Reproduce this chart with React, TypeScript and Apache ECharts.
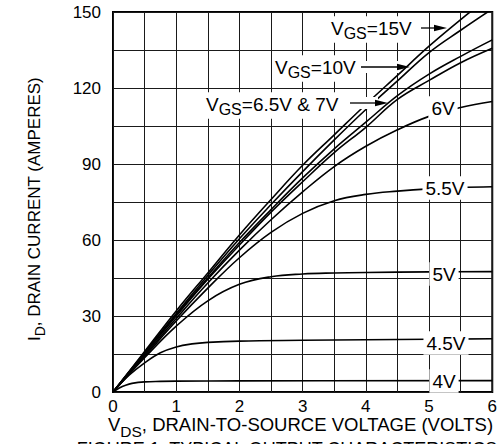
import React, { useEffect, useRef } from 'react';
import * as echarts from 'echarts';

// V_DS (volts), I_D (amperes) pairs per gate voltage curve
const vgs15: number[][] = [[0,0],[0.5,16],[1,32],[1.5,47],[2,62],[2.5,76],[3,89.5],[3.5,101.5],[4,113.5],[4.5,125],[5,136.5],[5.5,147],[5.7,151]];
const vgs10: number[][] = [[0,0],[0.5,15.5],[1,31],[1.5,46],[2,60.5],[2.5,74],[3,87],[3.5,99.5],[4,111.5],[4.5,122.8],[5,134],[5.5,142.8],[6,151.2]];
const vgs7: number[][] = [[0,0],[0.5,15.5],[1,30.5],[1.5,45],[2,59],[2.5,72],[3,84.5],[3.5,96],[4,106.5],[4.5,117],[5,125.5],[5.5,132.5],[6,139]];
const vgs65: number[][] = [[0,0],[0.5,15],[1,30],[1.5,44.5],[2,58],[2.5,71],[3,83],[3.5,94.5],[4,104.5],[4.5,115.5],[5,123],[5.5,130],[6,135.7]];
const vgs6: number[][] = [[0,0],[0.5,14.5],[1,29],[1.5,43],[2,56],[2.5,68],[3,79],[3.5,89],[4,97],[4.5,103.5],[5,108.8],[5.5,112.3],[6,114.7]];
const vgs55: number[][] = [[0,0],[0.5,14],[1,28],[1.5,41],[2,53],[2.5,63],[3,70.5],[3.5,75.5],[4,78],[4.5,79.3],[5,80.2],[5.5,80.7],[6,81]];
const vgs5: number[][] = [[0,0],[0.5,13.5],[1,26],[1.5,36],[2,42.5],[2.5,45.5],[3,46.6],[3.5,47],[4,47.2],[5,47.4],[6,47.5]];
const vgs45: number[][] = [[0,0],[0.25,6.5],[0.5,11.5],[0.75,15.5],[1,17.8],[1.25,19],[1.5,19.6],[2,20.1],[3,20.4],[4,20.6],[5,20.8],[6,21]];
const vgs4: number[][] = [[0,0],[0.1,1.6],[0.2,2.7],[0.3,3.4],[0.5,4.0],[0.75,4.2],[1,4.3],[2,4.4],[6,4.5]];

const curveNames = ['15V', '10V', '7V', '6.5V', '6V', '5.5V', '5V', '4.5V', '4V'];
const curves = [vgs15, vgs10, vgs7, vgs65, vgs6, vgs55, vgs5, vgs45, vgs4];

const xTicks = ['0', '1', '2', '3', '4', '5', '6'];
const yTicks = ['0', '30', '60', '90', '120', '150'];

const FONT = '"Liberation Sans", Arial, Helvetica, sans-serif';

type Part = [string, boolean];

let measureCtx: CanvasRenderingContext2D | null = null;
function measure(t: string, size: number): number {
  if (!measureCtx) measureCtx = document.createElement('canvas').getContext('2d');
  if (!measureCtx) return t.length * size * 0.6;
  measureCtx.font = `${size}px ${FONT}`;
  return measureCtx.measureText(t).width;
}

function richLabel(cx: number, cy: number, parts: Part[], mainSize: number, subSize: number, subDy: number, box: boolean, align: 'center' | 'left' = 'center') {
  const widths = parts.map(([t, s]) => measure(t, s ? subSize : mainSize));
  const total = widths.reduce((a, b) => a + b, 0);
  let x = align === 'center' ? cx - total / 2 : cx;
  const els: any[] = [];
  if (box) {
    els.push({ type: 'rect', z: 100, shape: { x: x - 3, y: cy - mainSize * 0.62, width: total + 6, height: mainSize * 1.24 + (parts.some((p) => p[1]) ? subDy * 0.6 : 0) }, style: { fill: '#fff' } });
  }
  parts.forEach(([t, s], i) => {
    els.push({
      type: 'text', z: 101, x, y: s ? cy + subDy : cy,
      style: { text: t, fontSize: s ? subSize : mainSize, fontFamily: FONT, fill: '#000', align: 'left', verticalAlign: 'middle' },
    });
    x += widths[i];
  });
  return els;
}

export default function App() {
  const ref = useRef<HTMLDivElement>(null);
  useEffect(() => {
    if (!ref.current) return;
    const chart = echarts.init(ref.current, undefined, { renderer: 'svg' });
    const arrow = (x1: number, x2: number, y: number) => [
      { type: 'line', z: 102, shape: { x1, y1: y, x2: x2 - 8, y2: y }, style: { stroke: '#000', lineWidth: 1.3 } },
      { type: 'polygon', z: 102, shape: { points: [[x2, y], [x2 - 13, y - 3.2], [x2 - 13, y + 3.2]] }, style: { fill: '#000' } },
    ];
    const halo = (x: number, y: number, w: number, h: number) => ({
      type: 'rect', z: 99, shape: { x, y, width: w, height: h }, style: { fill: '#fff' },
    });
    const LS = 19;
    const SS = 16;
    const SD = 5;

    const yTitleParts: Part[] = [['I', false], ['D', true], [', DRAIN CURRENT (AMPERES)', false]];
    const yTitle = richLabel(0, 0, yTitleParts, 17, 14, 6, false);

    chart.setOption({
      animation: false,
      grid: { left: 113, right: 7, top: 12, bottom: 52, show: true, borderColor: '#000', borderWidth: 2, backgroundColor: 'transparent' },
      xAxis: {
        type: 'value', min: 0, max: 6, interval: 0.5,
        axisLine: { show: false }, axisTick: { show: false },
        splitLine: { show: true, lineStyle: { color: '#1a1a1a', width: 1 } },
        axisLabel: {
          margin: 8, fontSize: 17, fontFamily: FONT, color: '#000', lineHeight: 12,
          formatter: (v: number) => (Number.isInteger(v) ? xTicks[v] : ''),
        },
      },
      yAxis: {
        type: 'value', min: 0, max: 150, interval: 15,
        axisLine: { show: false }, axisTick: { show: false },
        splitLine: { show: true, lineStyle: { color: '#1a1a1a', width: 1 } },
        axisLabel: {
          margin: 12, fontSize: 17, fontFamily: FONT, color: '#000',
          formatter: (v: number) => (v % 30 === 0 ? yTicks[v / 30] : ''),
        },
      },
      series: curves.map((d, i) => ({
        name: curveNames[i], type: 'line', data: d, smooth: 0.4, symbol: 'none', clip: true,
        lineStyle: { color: '#000', width: 1.6 }, z: 3,
      })),
      graphic: [
        halo(350, 97, 28, 12),
        halo(360, 61, 38, 12),
        ...richLabel(331, 28, [['V', false], ['GS', true], ['=15V', false]], LS, SS, SD, true, 'left'),
        ...arrow(421, 447, 28),
        ...richLabel(275, 67, [['V', false], ['GS', true], ['=10V', false]], LS, SS, SD, true, 'left'),
        ...arrow(361, 410, 67),
        ...richLabel(206, 104, [['V', false], ['GS', true], ['=6.5V & 7V', false]], LS, SS, SD, true, 'left'),
        ...arrow(350, 388, 103),
        ...richLabel(443, 108, [['6V', false]], LS, SS, SD, true),
        ...richLabel(445, 188, [['5.5V', false]], LS, SS, SD, true),
        ...richLabel(444, 274, [['5V', false]], LS, SS, SD, true),
        ...richLabel(446, 343, [['4.5V', false]], LS, SS, SD, true),
        ...richLabel(444, 381, [['4V', false]], LS, SS, SD, true),
        ...richLabel(108, 424.5, [['V', false], ['DS', true], [', DRAIN-TO-SOURCE VOLTAGE (VOLTS)', false]], 18.5, 15.5, 7, false, 'left'),
        { type: 'group', x: 34, y: 209, rotation: Math.PI / 2, children: yTitle },
        {
          type: 'text', z: 100, x: 287, y: 440,
          style: { text: 'FIGURE 1. TYPICAL OUTPUT CHARACTERISTICS', fontSize: 18, fontFamily: FONT, fill: '#000', align: 'center', verticalAlign: 'top' },
        },
      ],
    });
    return () => chart.dispose();
  }, []);
  return <div ref={ref} style={{ position: 'fixed', left: 0, top: 0, width: 500, height: 444, background: '#fff' }} />;
}
